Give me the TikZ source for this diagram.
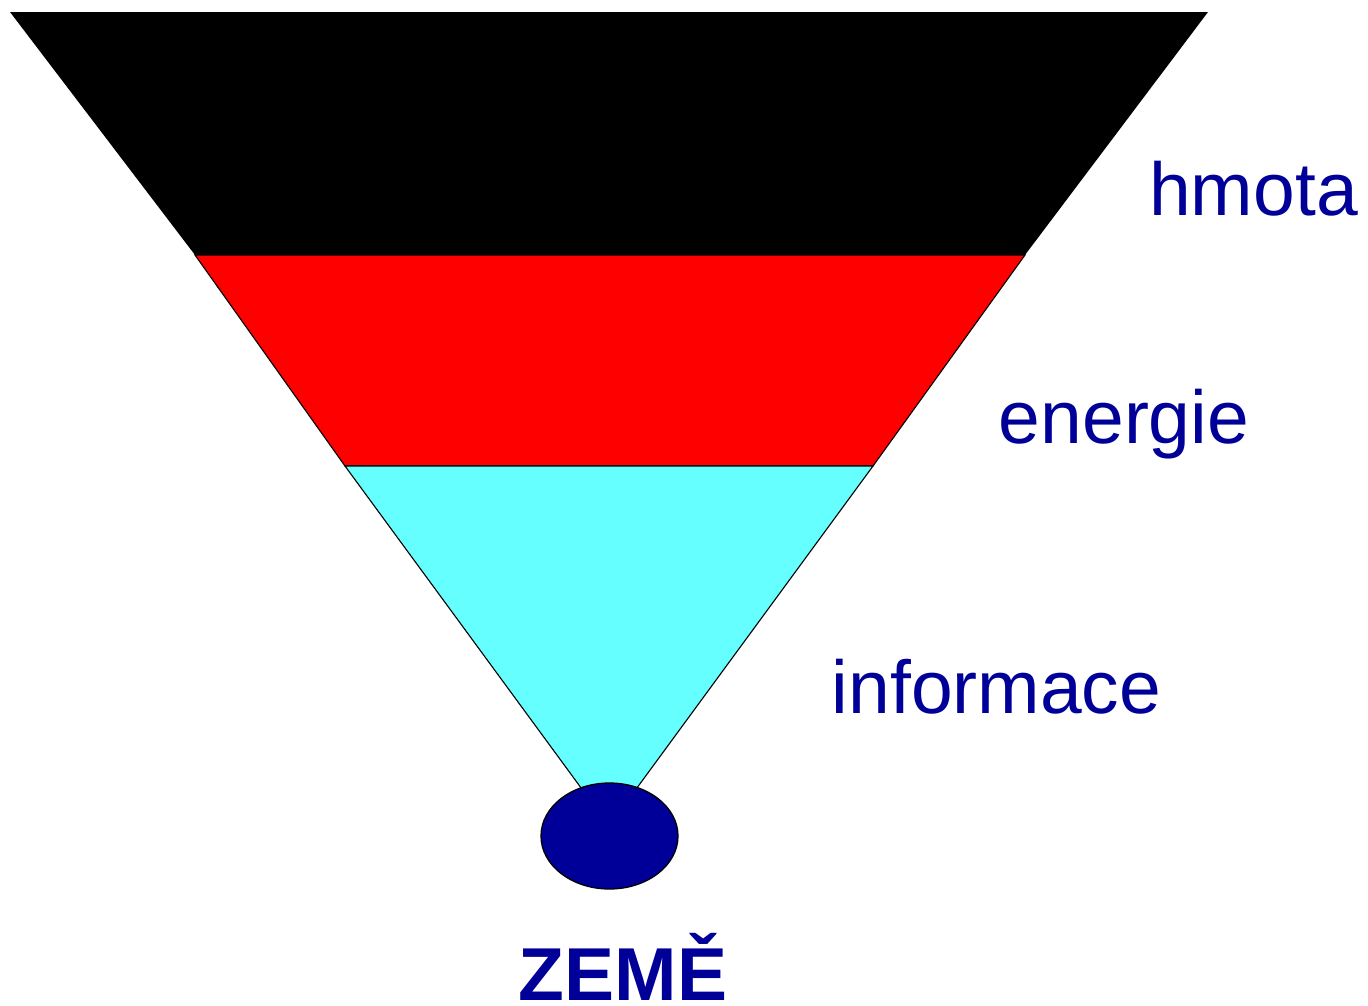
\documentclass[tikz,border=0pt]{standalone}
\usepackage{fontspec}
\setmainfont{Liberation Sans}
\usetikzlibrary{shapes.geometric}
\definecolor{txtblue}{RGB}{0,0,153}
\definecolor{cyanband}{RGB}{102,255,255}
\begin{document}
\begin{tikzpicture}[x=1pt,y=-1pt,
  band/.style={draw=black,line width=1.1pt,line join=miter},
  lbl/.style={text=txtblue,font=\fontsize{75}{90}\selectfont,inner sep=0pt,anchor=base}]
\useasboundingbox (0,0) rectangle (1368,1005);
% black band
\fill[black] (10,12) -- (1208,12) -- (1025,255) -- (195,255) -- cycle;
% red band
\filldraw[band,fill=red] (195,255) -- (1025,255) -- (873,466) -- (345,466) -- cycle;
% cyan band
\filldraw[band,fill=cyanband] (345,466) -- (873,466) -- (609,826) -- cycle;
% Earth
\node[ellipse,draw=black,line width=1.3pt,fill=txtblue,minimum width=137pt,minimum height=106pt,inner sep=0pt] (zeme) at (609.5,836) {};
% labels
\node[lbl] (hmota) at (1253.5,215) {hmota};
\node[lbl] (energie) at (1124,443) {energie};
\node[lbl] (informace) at (996.5,713) {informace};
\node[lbl,font=\fontsize{75}{90}\selectfont\bfseries] (zemelbl) at (623,1000) {ZEMĚ};
\end{tikzpicture}
\end{document}
